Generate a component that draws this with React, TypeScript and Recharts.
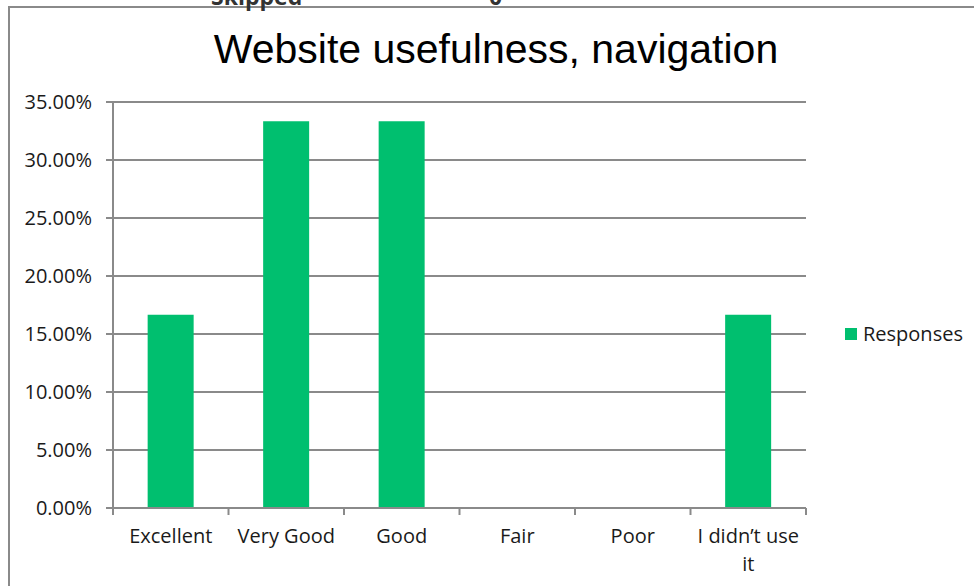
import React from "react";
import { BarChart, Bar, XAxis, YAxis, CartesianGrid, Legend } from "recharts";

const categories = ["Excellent", "Very Good", "Good", "Fair", "Poor", "I didn’t use it"];
const responses = [0.1667, 0.3333, 0.3333, 0, 0, 0.1667];
const yTicks = [0, 0.05, 0.1, 0.15, 0.2, 0.25, 0.3, 0.35];
const seriesName = "Responses";
const title = "Website usefulness, navigation";

const data = categories.map((c, i) => ({ category: c, value: responses[i] }));

const W = 974;
const H = 586;
const MARGIN = { top: 102, right: 168, bottom: 0, left: 0 };
const X_HEIGHT = 78;
const Y_WIDTH = 113;
const PLOT_W = W - MARGIN.right - Y_WIDTH;
const STEP = PLOT_W / categories.length;
const FONT = "'Open Sans', sans-serif";
const GRID = "#8a8a8a";
const GREEN = "#00bf6f";

function wrap(label: string, max: number): string[] {
  const words = label.split(" ");
  const lines: string[] = [];
  let cur = "";
  for (const w of words) {
    const next = cur ? cur + " " + w : w;
    if (next.length > max && cur) {
      lines.push(cur);
      cur = w;
    } else cur = next;
  }
  if (cur) lines.push(cur);
  return lines;
}

const XTick = (props: any) => {
  const { x, y, payload, index } = props;
  const lines = wrap(String(payload.value), 12);
  const left = x - STEP / 2;
  const right = x + STEP / 2;
  return (
    <g>
      <line x1={left} x2={left} y1={y - 8} y2={y - 1} stroke={GRID} strokeWidth={2} />
      {index === categories.length - 1 && (
        <line x1={right} x2={right} y1={y - 8} y2={y - 1} stroke={GRID} strokeWidth={2} />
      )}
      <text x={x} y={y + 27} textAnchor="middle" fill="#1a1a1a" fontFamily={FONT} fontSize={20}>
        {lines.map((l, i) => (
          <tspan key={i} x={x} dy={i === 0 ? 0 : 28}>
            {l}
          </tspan>
        ))}
      </text>
    </g>
  );
};

const LegendContent = (props: any) => {
  const { payload } = props;
  return (
    <div style={{ display: "flex", flexDirection: "column" }}>
      {(payload || []).map((p: any, i: number) => (
        <div key={i} style={{ display: "flex", alignItems: "center", height: 24 }}>
          <span style={{ display: "inline-block", width: 12, height: 12, background: p.color, marginRight: 6 }} />
          <span style={{ fontFamily: FONT, fontSize: 20, color: "#1a1a1a", lineHeight: "24px" }}>{p.value}</span>
        </div>
      ))}
    </div>
  );
};

export default function App() {
  return (
    <div style={{ position: "absolute", left: 0, top: 0, width: W, height: H, overflow: "hidden", background: "#fff" }}>
      <div
        style={{
          position: "absolute",
          left: 8,
          top: 6,
          width: W + 20,
          height: H + 20,
          borderLeft: `2px solid ${GRID}`,
          borderTop: `2px solid ${GRID}`,
          boxSizing: "border-box",
        }}
      />
      <svg width={W} height={90} style={{ position: "absolute", left: 0, top: 0 }}>
        <text x={211} y={5} fontFamily={FONT} fontWeight="bold" fontSize={23} fill="#333">
          Skipped
        </text>
        <text x={489} y={5} fontFamily={FONT} fontWeight="bold" fontSize={23} fill="#333">
          0
        </text>
        <text x={496} y={63} textAnchor="middle" fontFamily="'Liberation Sans', Arial, sans-serif" fontSize={41} fill="#000">
          {title}
        </text>
      </svg>
      <div style={{ position: "absolute", left: 0, top: 0 }}>
        <BarChart width={W} height={H} data={data} margin={MARGIN} barCategoryGap="30%">
          <CartesianGrid vertical={false} stroke={GRID} strokeWidth={2} />
          <XAxis
            dataKey="category"
            axisLine={{ stroke: GRID, strokeWidth: 2 }}
            tickLine={false}
            tick={<XTick />}
            interval={0}
            height={X_HEIGHT}
          />
          <YAxis
            width={Y_WIDTH}
            domain={[0, 0.35]}
            ticks={yTicks}
            tickFormatter={(v: number) => (v * 100).toFixed(2) + "%"}
            axisLine={{ stroke: GRID, strokeWidth: 2 }}
            tickLine={{ stroke: GRID, strokeWidth: 2 }}
            tickSize={7}
            tickMargin={14}
            tick={{ fill: "#1a1a1a", fontFamily: FONT, fontSize: 20 }}
          />
          <Legend
            layout="vertical"
            align="center"
            verticalAlign="middle"
            content={<LegendContent />}
            wrapperStyle={{ position: "absolute", left: 845, top: 322, width: 130 }}
          />
          <Bar dataKey="value" name={seriesName} fill={GREEN} isAnimationActive={false} />
        </BarChart>
      </div>
    </div>
  );
}
